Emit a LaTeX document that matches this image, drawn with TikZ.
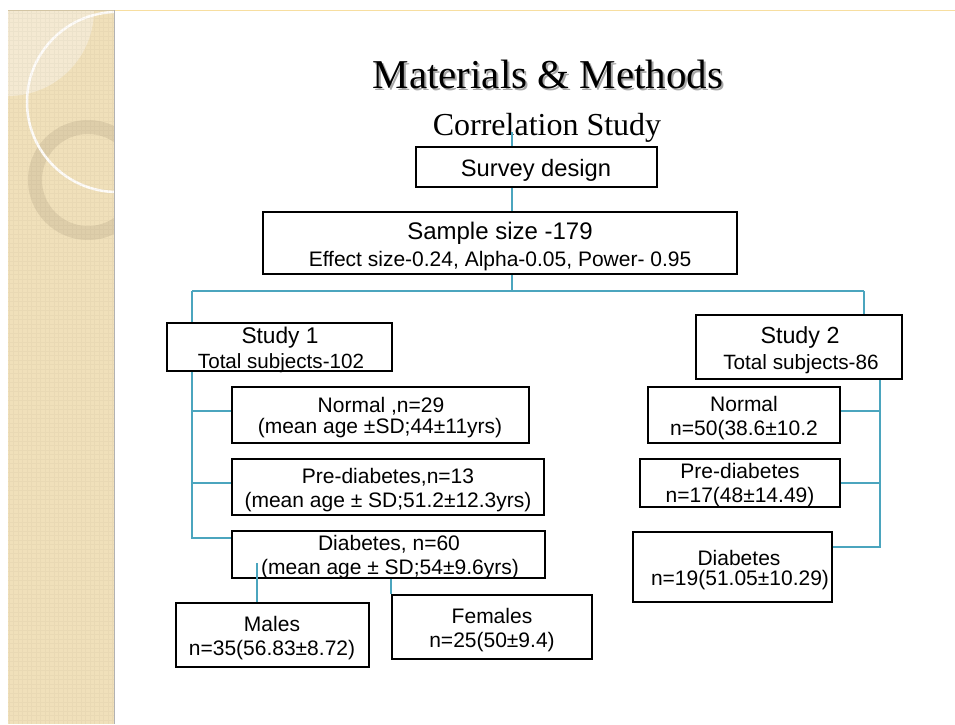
\documentclass[tikz,border=0pt]{standalone}
\usepackage{fontspec}
\setmainfont{Liberation Sans}
\newfontfamily\seriffam{Liberation Serif}
\newcommand\fsz[1]{\fontsize{#1}{#1}\selectfont}
\definecolor{bandcol}{RGB}{240,224,186}
\definecolor{lenscol}{RGB}{244,233,210}
\definecolor{ringcol}{RGB}{222,206,170}
\definecolor{tealfive}{RGB}{75,165,190}
\definecolor{orline}{RGB}{247,222,160}
\begin{document}
\begin{tikzpicture}[x=1pt,y=-1pt,
  box/.style={draw=black, line width=2pt, fill=white, inner sep=0pt},
  conn/.style={draw=tealfive, line width=1.2pt},
  txt/.style={inner sep=0pt, anchor=base, text=black},
  small/.style={font=\fsz{21}}]
\useasboundingbox (0,0) rectangle (955,724);
\fill[white] (0,0) rectangle (955,724);
% decorative band
\fill[bandcol] (8,10) rectangle (114,724);
\begin{scope}
  \clip (8,10) rectangle (114,724);
  \fill[lenscol] (8,10) circle[radius=86pt];
  \fill[ringcol, even odd rule] (88,180) circle[radius=60pt] (88,180) circle[radius=46pt];
  \draw[white!92!bandcol, line width=2.5pt] (117,102) circle[radius=90pt];
  \draw[black!40!bandcol, line width=0.3pt, opacity=0.07, step=4.5pt] (8,10) grid (114,724);
\end{scope}
\draw[black!12!bandcol, line width=1pt] (8,10) -- (114,10);
\draw[black!30, line width=1.5pt] (114.5,10) -- (114.5,724);
\draw[orline, line width=1pt] (115,10) -- (955,10);

% title
\node[txt, text=black!35, font=\seriffam\fsz{41}] (titleshadow) at (550,90) {Materials \& Methods};
\node[txt, font=\seriffam\fsz{41}] (title) at (548,88) {Materials \& Methods};
\node[txt, font=\seriffam\fsz{32}] (corr) at (547,135) {Correlation Study};

% boxes
\node[box, minimum width=241pt, minimum height=40pt] (survey) at (536.5,167) {};
\node[box, minimum width=474pt, minimum height=62pt] (sample) at (500,243) {};
\node[box, minimum width=225pt, minimum height=48pt] (s1) at (279.5,347) {};
\node[box, minimum width=297pt, minimum height=56pt] (n1) at (380.5,415) {};
\node[box, minimum width=312pt, minimum height=56pt] (p1) at (388,487) {};
\node[box, minimum width=313pt, minimum height=47pt] (d1) at (388.5,554.5) {};
\node[box, minimum width=193pt, minimum height=64pt] (males) at (272.5,635) {};
\node[box, minimum width=200pt, minimum height=64pt] (fem) at (492,627) {};
\node[box, minimum width=206pt, minimum height=64pt] (s2) at (799,347) {};
\node[box, minimum width=192pt, minimum height=56pt] (n2) at (744,415) {};
\node[box, minimum width=200pt, minimum height=48pt] (p2) at (740,483) {};
\node[box, minimum width=199pt, minimum height=70pt] (d2) at (732.5,567) {};

% texts
\node[txt, font=\fsz{23.7}] (surveyt) at (536,176) {Survey design};
\node[txt, font=\fsz{24}] (samplet) at (500,239) {Sample size -179};
\node[txt, font=\fsz{21}] (effectt) at (500,266) {Effect size-0.24, Alpha-0.05, Power- 0.95};
\node[txt, font=\fsz{22.7}] (s1a) at (280,343) {Study 1};
\node[txt, font=\fsz{20.6}] (s1b) at (281,368) {Total subjects-102};
\node[txt, small] (n1a) at (381,412) {Normal ,n=29};
\node[txt, small] (n1b) at (380,433) {(mean age ±SD;44±11yrs)};
\node[txt, small] (p1a) at (388,483) {Pre-diabetes,n=13};
\node[txt, small] (p1b) at (388,507) {(mean age ± SD;51.2±12.3yrs)};
\node[txt, small] (d1a) at (389,550.5) {Diabetes, n=60};
\node[txt, small] (d1b) at (390,574) {(mean age ± SD;54±9.6yrs)};
\node[txt, small] (ma) at (272,631) {Males};
\node[txt, small] (mb) at (272,655) {n=35(56.83±8.72)};
\node[txt, small] (fa) at (492,623) {Females};
\node[txt, small] (fb) at (492,647) {n=25(50±9.4)};
\node[txt, font=\fsz{23.3}] (s2a) at (800,343) {Study 2};
\node[txt, font=\fsz{20.7}] (s2b) at (801,369) {Total subjects-86};
\node[txt, small] (n2a) at (744,411) {Normal};
\node[txt, small] (n2b) at (744,435) {n=50(38.6±10.2};
\node[txt, small] (p2a) at (740,478) {Pre-diabetes};
\node[txt, small] (p2b) at (740,502) {n=17(48±14.49)};
\node[txt, small] (d2a) at (739,565) {Diabetes};
\node[txt, small] (d2b) at (740,585) {n=19(51.05±10.29)};

% connectors
\coordinate (top) at (512,132);
\coordinate (hub) at (512,291);
\coordinate (lhub) at (192,291);
\coordinate (rhub) at (864,291);
\coordinate (lb1) at (192,411);
\coordinate (lb2) at (192,483);
\coordinate (lb3) at (192,538);
\coordinate (rb1) at (880,411);
\coordinate (rb2) at (880,483);
\coordinate (rb3) at (880,547);
\coordinate (rtop) at (880,379);
\coordinate (mtop) at (257,563);
\draw[conn] (top) -- (top |- survey.north);
\draw[conn] (hub |- survey.south) -- (hub |- sample.north);
\draw[conn] (hub |- sample.south) -- (hub);
\draw[conn] (lhub) -- (rhub);
\draw[conn] (lhub) -- (lhub |- s1.north);
\draw[conn] (rhub) -- (rhub |- s2.north);
\draw[conn] (lhub |- s1.south) -- (lb3) -- (lb3 -| d1.west);
\draw[conn] (lb1) -- (lb1 -| n1.west);
\draw[conn] (lb2) -- (lb2 -| p1.west);
\draw[conn] (rtop |- s2.south) -- (rb3) -- (rb3 -| d2.east);
\draw[conn] (rb1) -- (rb1 -| n2.east);
\draw[conn] (rb2) -- (rb2 -| p2.east);
\draw[conn] (mtop) -- (mtop |- males.north);
\draw[conn] (fem.north west |- d1.south) -- (fem.north west);
\end{tikzpicture}
\end{document}
